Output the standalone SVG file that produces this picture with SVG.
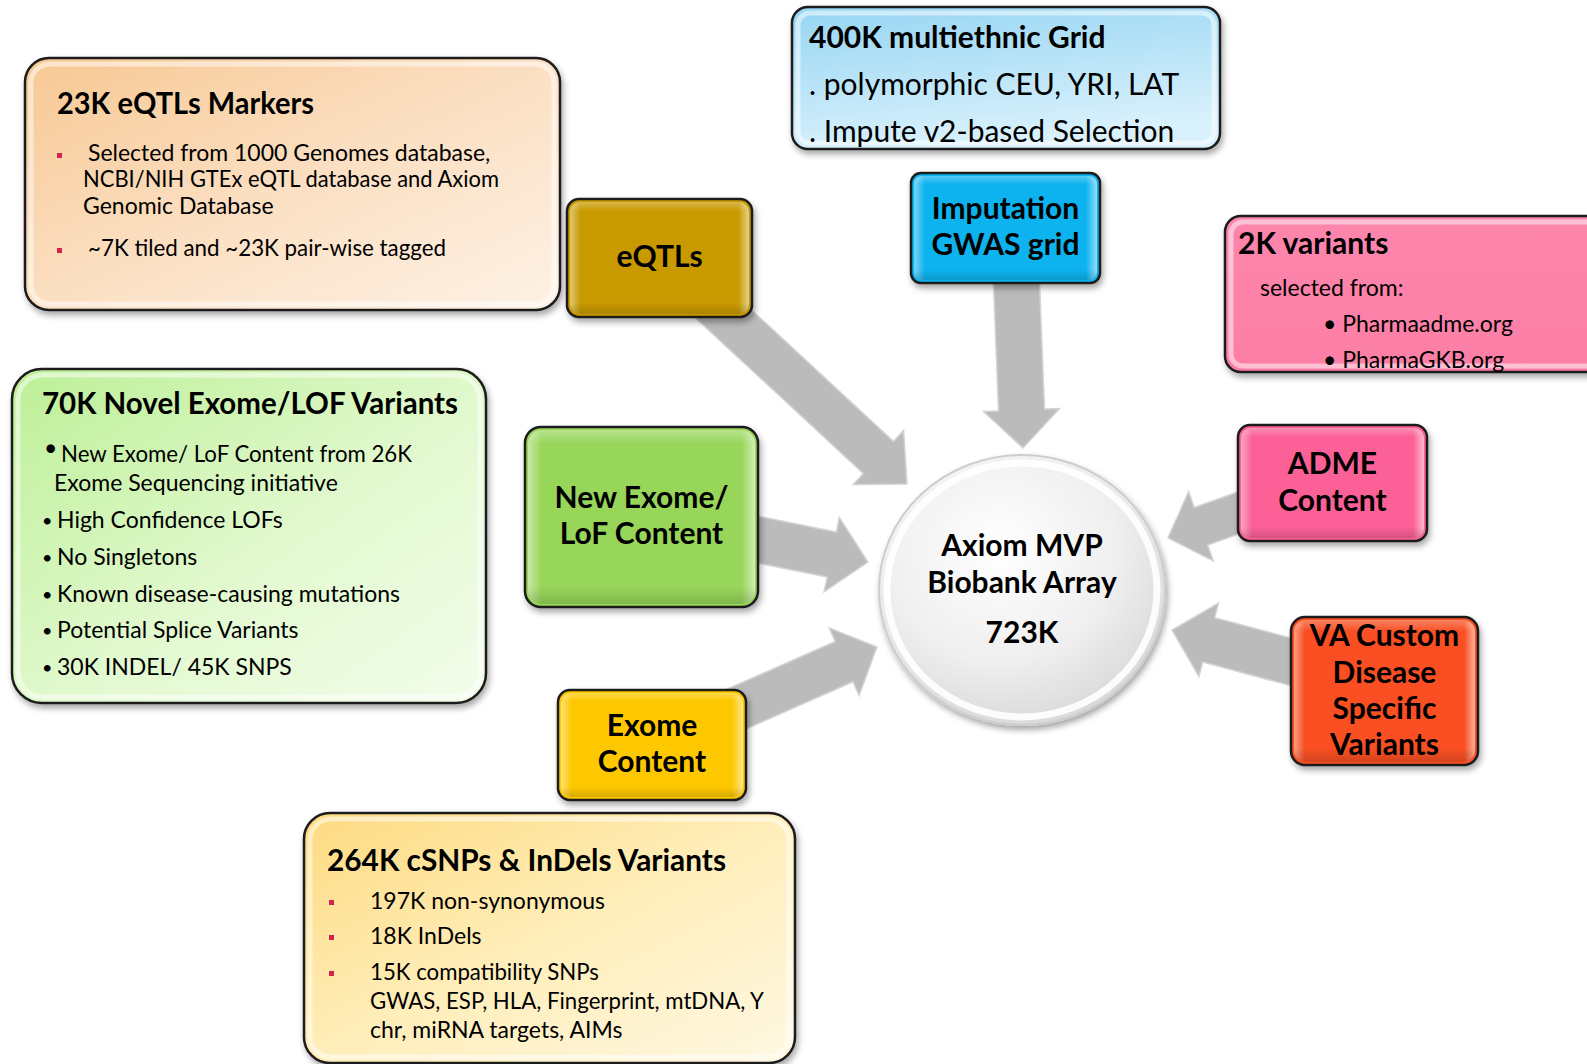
<svg xmlns="http://www.w3.org/2000/svg" width="1587" height="1064" viewBox="0 0 1587 1064">
<defs>
<style>
.t{font-family:Lato,"Open Sans","Liberation Sans",sans-serif;fill:#000}
.h{font-size:30px;font-weight:700}
.n{font-size:23px}
.bl{font-size:18px}
.m{font-size:30px}
.c{text-anchor:middle}
.box{stroke:#1a1a1a;stroke-width:2.5}
.rim{fill:none;stroke:#fff;stroke-opacity:.5;stroke-width:5}
.bev{fill:url(#bevH);stroke:none}
.bevv{fill:url(#bevV);stroke:none}
.arr{fill:#bbbbbb;stroke:#d4d4d4;stroke-width:1.5;stroke-linejoin:miter}
.sq{fill:#d6224f}
</style>
<filter id="sh" x="-10%" y="-10%" width="125%" height="130%">
<feDropShadow dx="2" dy="4" stdDeviation="3" flood-color="#000" flood-opacity="0.35"/>
</filter>
<linearGradient id="gPeach" x1="0" y1="0" x2="1" y2="1">
<stop offset="0" stop-color="#f7c893"/><stop offset="0.5" stop-color="#fbdfc2"/><stop offset="1" stop-color="#fdf2e6"/>
</linearGradient>
<linearGradient id="gBlue" x1="0" y1="0" x2="0.3" y2="1">
<stop offset="0" stop-color="#96d5f3"/><stop offset="1" stop-color="#d9f1fc"/>
</linearGradient>
<linearGradient id="gGreen" x1="0" y1="0" x2="1" y2="1">
<stop offset="0" stop-color="#bcef96"/><stop offset="0.55" stop-color="#e2f9cf"/><stop offset="1" stop-color="#f3fdec"/>
</linearGradient>
<linearGradient id="gYellow" x1="0" y1="0" x2="1" y2="1">
<stop offset="0" stop-color="#fdda80"/><stop offset="0.5" stop-color="#ffeeba"/><stop offset="1" stop-color="#fff8e2"/>
</linearGradient>
<linearGradient id="gPink" x1="0" y1="0" x2="0" y2="1">
<stop offset="0" stop-color="#fd86ac"/><stop offset="1" stop-color="#fc7ea6"/>
</linearGradient>
<linearGradient id="bevH" x1="0" y1="0" x2="1" y2="0">
<stop offset="0" stop-color="#fff" stop-opacity="0.45"/>
<stop offset="0.06" stop-color="#fff" stop-opacity="0"/>
<stop offset="0.94" stop-color="#fff" stop-opacity="0"/>
<stop offset="1" stop-color="#fff" stop-opacity="0.55"/>
</linearGradient>
<linearGradient id="bevV" x1="0" y1="0" x2="0" y2="1">
<stop offset="0" stop-color="#fff" stop-opacity="0.3"/>
<stop offset="0.08" stop-color="#fff" stop-opacity="0"/>
<stop offset="0.9" stop-color="#000" stop-opacity="0"/>
<stop offset="1" stop-color="#000" stop-opacity="0.15"/>
</linearGradient>
<radialGradient id="gBall" cx="0.42" cy="0.35" r="0.75">
<stop offset="0" stop-color="#ffffff"/><stop offset="0.55" stop-color="#efefef"/><stop offset="1" stop-color="#d2d2d2"/>
</radialGradient>
</defs>
<rect width="1587" height="1064" fill="#fff"/>

<g id="connectors">
<polygon class="arr" points="686,309.1 863.4,473.6 853.2,484.6 907,484 903.6,430.4 893.4,441.4 716,276.9"/>
<polygon class="arr" points="993,270.9 998.5,410.9 983.5,411.5 1023,448 1059.5,408.5 1044.5,409.1 1039,269.1"/>
<polygon class="arr" points="740.4,559.5 827.1,577.1 824.1,591.8 868,562 839.3,517.4 836.3,532.1 749.6,514.5"/>
<polygon class="arr" points="720.5,740.2 853,681.7 859.1,695.4 877,647 829.1,627.8 835.2,641.5 702.7,700"/>
<polygon class="arr" points="1248.3,488.2 1194.3,507.5 1188.6,491.5 1168,538 1213.4,561.1 1207.7,545.1 1261.7,525.8"/>
<polygon class="arr" points="1315.95,644.8 1214.7,617.6 1218.5,603.1 1172,630 1198.9,676.5 1202.7,662 1304.05,689.2"/>
</g>

<g id="eqtl-markers">
<rect class="box" x="25" y="58" width="535" height="252" rx="24" fill="url(#gPeach)" filter="url(#sh)"/>
<rect class="rim" x="31" y="64" width="523" height="240" rx="19"/>
<text class="t h" x="57" y="114" textLength="257" lengthAdjust="spacingAndGlyphs">23K eQTLs Markers</text>
<rect class="sq" x="57" y="153" width="5" height="5"/>
<text class="t n" x="88" y="161">Selected from 1000 Genomes database,</text>
<text class="t n" x="83" y="187" textLength="416" lengthAdjust="spacingAndGlyphs">NCBI/NIH GTEx eQTL database and Axiom</text>
<text class="t n" x="83" y="214">Genomic Database</text>
<rect class="sq" x="57" y="248" width="5" height="5"/>
<text class="t n" x="88" y="256" textLength="358" lengthAdjust="spacingAndGlyphs">~7K tiled and ~23K pair-wise tagged</text>
</g>

<g id="multiethnic-grid">
<rect class="box" x="792" y="7" width="428" height="142" rx="16" fill="url(#gBlue)" filter="url(#sh)"/>
<rect class="rim" x="798" y="13" width="416" height="130" rx="12"/>
<text class="t h" x="809" y="48">400K multiethnic Grid</text>
<text class="t m" x="809" y="95">. polymorphic CEU, YRI, LAT</text>
<text class="t m" x="809" y="142">. Impute v2-based Selection</text>
</g>

<g id="eqtls">
<rect class="box" x="567" y="199" width="185" height="118" rx="12" fill="#c89a00" filter="url(#sh)"/>
<rect class="bev" x="570" y="202" width="179" height="112" rx="10"/>
<rect class="bevv" x="570" y="202" width="179" height="112" rx="10"/>
<text class="t h c" x="659.5" y="267">eQTLs</text>
</g>

<g id="imputation">
<rect class="box" x="911" y="173" width="189" height="110" rx="10" fill="#08b3ef" filter="url(#sh)"/>
<rect class="bev" x="914" y="176" width="183" height="104" rx="8"/>
<rect class="bevv" x="914" y="176" width="183" height="104" rx="8"/>
<text class="t h c" x="1005.5" y="219">Imputation</text>
<text class="t h c" x="1005.5" y="255">GWAS grid</text>
</g>

<g id="variants-2k">
<rect class="box" x="1225" y="216" width="380" height="156" rx="16" fill="url(#gPink)" filter="url(#sh)"/>
<rect class="rim" x="1231" y="222" width="368" height="144" rx="12" stroke-opacity="0.3"/>
<text class="t h" x="1238" y="254">2K variants</text>
<text class="t n" x="1260" y="296">selected from:</text>
<text class="t n" x="1323" y="332">• Pharmaadme.org</text>
<text class="t n" x="1323" y="368">• PharmaGKB.org</text>
</g>

<g id="novel-exome-lof">
<rect class="box" x="12" y="369" width="474" height="334" rx="30" fill="url(#gGreen)" filter="url(#sh)"/>
<rect class="rim" x="18" y="375" width="462" height="322" rx="25"/>
<text class="t h" x="42" y="414" textLength="416" lengthAdjust="spacingAndGlyphs">70K Novel Exome/LOF Variants</text>
<text class="t n" x="44" y="456">•</text>
<text class="t n" x="61" y="462" textLength="351" lengthAdjust="spacingAndGlyphs">New Exome/ LoF Content from 26K</text>
<text class="t n" x="54" y="491">Exome Sequencing initiative</text>
<text class="t bl" x="42" y="527">•</text>
<text class="t n" x="57" y="528">High Confidence LOFs</text>
<text class="t bl" x="42" y="564">•</text>
<text class="t n" x="57" y="565">No Singletons</text>
<text class="t bl" x="42" y="601">•</text>
<text class="t n" x="57" y="602">Known disease-causing mutations</text>
<text class="t bl" x="42" y="637">•</text>
<text class="t n" x="57" y="638">Potential Splice Variants</text>
<text class="t bl" x="42" y="674">•</text>
<text class="t n" x="57" y="675">30K INDEL/ 45K SNPS</text>
</g>

<g id="new-exome">
<rect class="box" x="525" y="427" width="233" height="180" rx="16" fill="#98d65a" filter="url(#sh)"/>
<rect class="bev" x="528" y="430" width="227" height="174" rx="14"/>
<rect class="bevv" x="528" y="430" width="227" height="174" rx="14"/>
<text class="t h c" x="641.5" y="508">New Exome/</text>
<text class="t h c" x="641.5" y="544">LoF Content</text>
</g>

<g id="axiom">
<ellipse cx="1022" cy="590" rx="143" ry="135" fill="url(#gBall)" stroke="#cdcdcd" stroke-width="2" filter="url(#sh)"/>
<ellipse cx="1022" cy="590" rx="135" ry="127" fill="none" stroke="#fff" stroke-width="7" stroke-opacity="0.9"/>
<text class="t h c" x="1022" y="556">Axiom MVP</text>
<text class="t h c" x="1022" y="593">Biobank Array</text>
<text class="t h c" x="1022" y="643">723K</text>
</g>

<g id="adme">
<rect class="box" x="1238" y="425" width="189" height="116" rx="12" fill="#fb6197" filter="url(#sh)"/>
<rect class="bev" x="1241" y="428" width="183" height="110" rx="10"/>
<rect class="bevv" x="1241" y="428" width="183" height="110" rx="10"/>
<text class="t h c" x="1332.5" y="474">ADME</text>
<text class="t h c" x="1332.5" y="511">Content</text>
</g>

<g id="va-custom">
<rect class="box" x="1291" y="617" width="187" height="148" rx="14" fill="#f94f20" filter="url(#sh)"/>
<rect class="bev" x="1294" y="620" width="181" height="142" rx="12"/>
<rect class="bevv" x="1294" y="620" width="181" height="142" rx="12"/>
<text class="t h c" x="1384.5" y="646">VA Custom</text>
<text class="t h c" x="1384.5" y="683">Disease</text>
<text class="t h c" x="1384.5" y="719">Specific</text>
<text class="t h c" x="1384.5" y="755">Variants</text>
</g>

<g id="exome-content">
<rect class="box" x="558" y="690" width="188" height="110" rx="12" fill="#fec800" filter="url(#sh)"/>
<rect class="bev" x="561" y="693" width="182" height="104" rx="10"/>
<rect class="bevv" x="561" y="693" width="182" height="104" rx="10"/>
<text class="t h c" x="652" y="736">Exome</text>
<text class="t h c" x="652" y="772">Content</text>
</g>

<g id="csnps-indels">
<rect class="box" x="304" y="813" width="491" height="250" rx="26" fill="url(#gYellow)" filter="url(#sh)"/>
<rect class="rim" x="310" y="819" width="479" height="238" rx="21"/>
<text class="t h" x="327" y="871" textLength="399" lengthAdjust="spacingAndGlyphs">264K cSNPs &amp; InDels Variants</text>
<rect class="sq" x="329" y="900" width="5" height="5"/>
<text class="t n" x="370" y="909">197K non-synonymous</text>
<rect class="sq" x="329" y="935" width="5" height="5"/>
<text class="t n" x="370" y="944">18K InDels</text>
<rect class="sq" x="329" y="971" width="5" height="5"/>
<text class="t n" x="370" y="980" textLength="229" lengthAdjust="spacingAndGlyphs">15K compatibility SNPs</text>
<text class="t n" x="370" y="1009" textLength="394" lengthAdjust="spacingAndGlyphs">GWAS, ESP, HLA, Fingerprint, mtDNA, Y</text>
<text class="t n" x="370" y="1038">chr, miRNA targets, AIMs</text>
</g>
</svg>
